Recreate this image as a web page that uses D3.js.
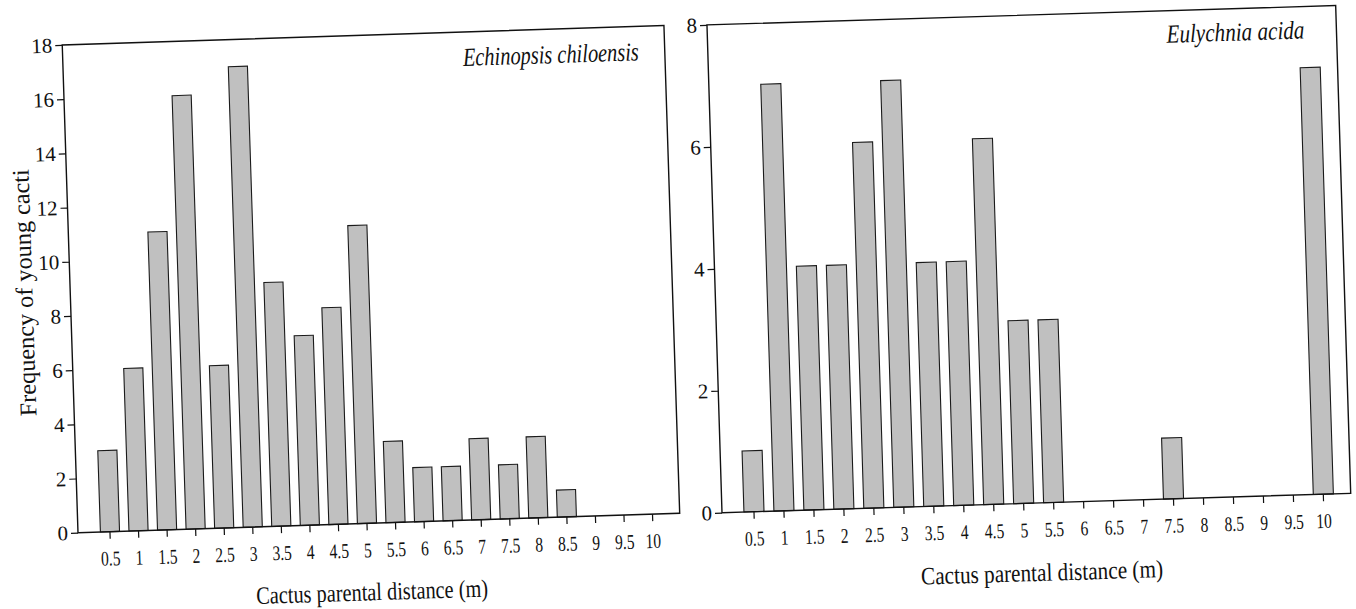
<!DOCTYPE html>
<html><head><meta charset="utf-8">
<script src="https://cdn.jsdelivr.net/npm/d3@7"></script>
<style>body{margin:0;background:#fff}svg{display:block}</style>
</head><body><svg id="c" width="1356" height="609"></svg>
<script>
const categories = ["0.5","1","1.5","2","2.5","3","3.5","4","4.5","5","5.5","6","6.5","7","7.5","8","8.5","9","9.5","10"];
const echinopsisValues = [3,6,11,16,6,17,9,7,8,11,3,2,2,3,2,3,1,0,0,0];
const eulychniaValues  = [1,7,4,4,6,7,4,4,6,3,3,0,0,0,1,0,0,0,0,7];
const echinopsisTicks = [0,2,4,6,8,10,12,14,16,18];
const eulychniaTicks = [0,2,4,6,8];
const xTitle = "Cactus parental distance (m)";
const yTitle = "Frequency of young cacti";
const panelTitles = ["Echinopsis chiloensis","Eulychnia acida"];

const panels = [
  {origin:[78,532.7], angle:-1.85, w:602, h:488, yMax:18, band:[17.7,589.1], values:echinopsisValues, ticks:echinopsisTicks,
   title:panelTitles[0], titlePos:[400,-454], titleLen:176, xtPos:[292,77], xtLen:232, showY:true},
  {origin:[722,512.7], angle:-1.765, w:629, h:488, yMax:8, band:[17,616.6], values:eulychniaValues, ticks:eulychniaTicks,
   title:panelTitles[1], titlePos:[459,-456], titleLen:138, xtPos:[318,78], xtLen:242, showY:false}
];

const svg = d3.select("#c");
const font = "Liberation Serif, Times New Roman, serif";

panels.forEach(p => {
  const g = svg.append("g").attr("transform", `translate(${p.origin[0]},${p.origin[1]}) rotate(${p.angle})`);
  const x = d3.scaleBand().domain(categories).range(p.band).paddingInner(0.33).paddingOuter(0.165);
  const y = d3.scaleLinear().domain([0,p.yMax]).range([0,-p.h]);

  g.selectAll("rect.bar").data(categories.map((c,i)=>({c, v:p.values[i]})).filter(d=>d.v>0))
    .enter().append("rect").attr("class","bar")
    .attr("x", d=>x(d.c)).attr("width", x.bandwidth())
    .attr("y", d=>y(d.v)).attr("height", d=>-y(d.v))
    .attr("fill","#c0c0c0").attr("stroke","#1a1a1a").attr("stroke-width",1.1);

  // frame
  g.append("rect").attr("x",0).attr("y",-p.h).attr("width",p.w).attr("height",p.h)
    .attr("fill","none").attr("stroke","#111").attr("stroke-width",1.4);

  const xa = g.append("g").call(d3.axisBottom(x).tickSize(7).tickSizeOuter(0).tickPadding(12));
  xa.select(".domain").remove();
  xa.selectAll("line").attr("stroke","#111").attr("stroke-width",1.2);
  xa.selectAll("text").style("font-family",font).style("font-size","21px").attr("fill","#111")
    .attr("transform","scale(0.74,1)");

  const ya = g.append("g").call(d3.axisLeft(y).tickValues(p.ticks).tickFormat(d3.format("d")).tickSize(7).tickSizeOuter(0).tickPadding(3));
  ya.select(".domain").remove();
  ya.selectAll("line").attr("stroke","#111").attr("stroke-width",1.2);
  ya.selectAll("text").style("font-family",font).style("font-size","21px").attr("fill","#111");

  g.append("text").attr("x",p.titlePos[0]).attr("y",p.titlePos[1])
    .style("font-family",font).style("font-style","italic").style("font-size","26px").attr("fill","#111")
    .attr("textLength",p.titleLen).attr("lengthAdjust","spacingAndGlyphs").text(p.title);

  g.append("text").attr("x",p.xtPos[0]-p.xtLen/2).attr("y",p.xtPos[1])
    .style("font-family",font).style("font-size","25px").attr("fill","#111")
    .attr("textLength",p.xtLen).attr("lengthAdjust","spacingAndGlyphs").text(xTitle);

  if (p.showY) {
    g.append("text").attr("transform","translate(-45,-241) rotate(-90)")
      .attr("x",-123).attr("dy","0.3em")
      .style("font-family",font).style("font-size","24px").attr("fill","#111")
      .attr("textLength",247).attr("lengthAdjust","spacingAndGlyphs").text(yTitle);
  }
});
</script></body></html>
